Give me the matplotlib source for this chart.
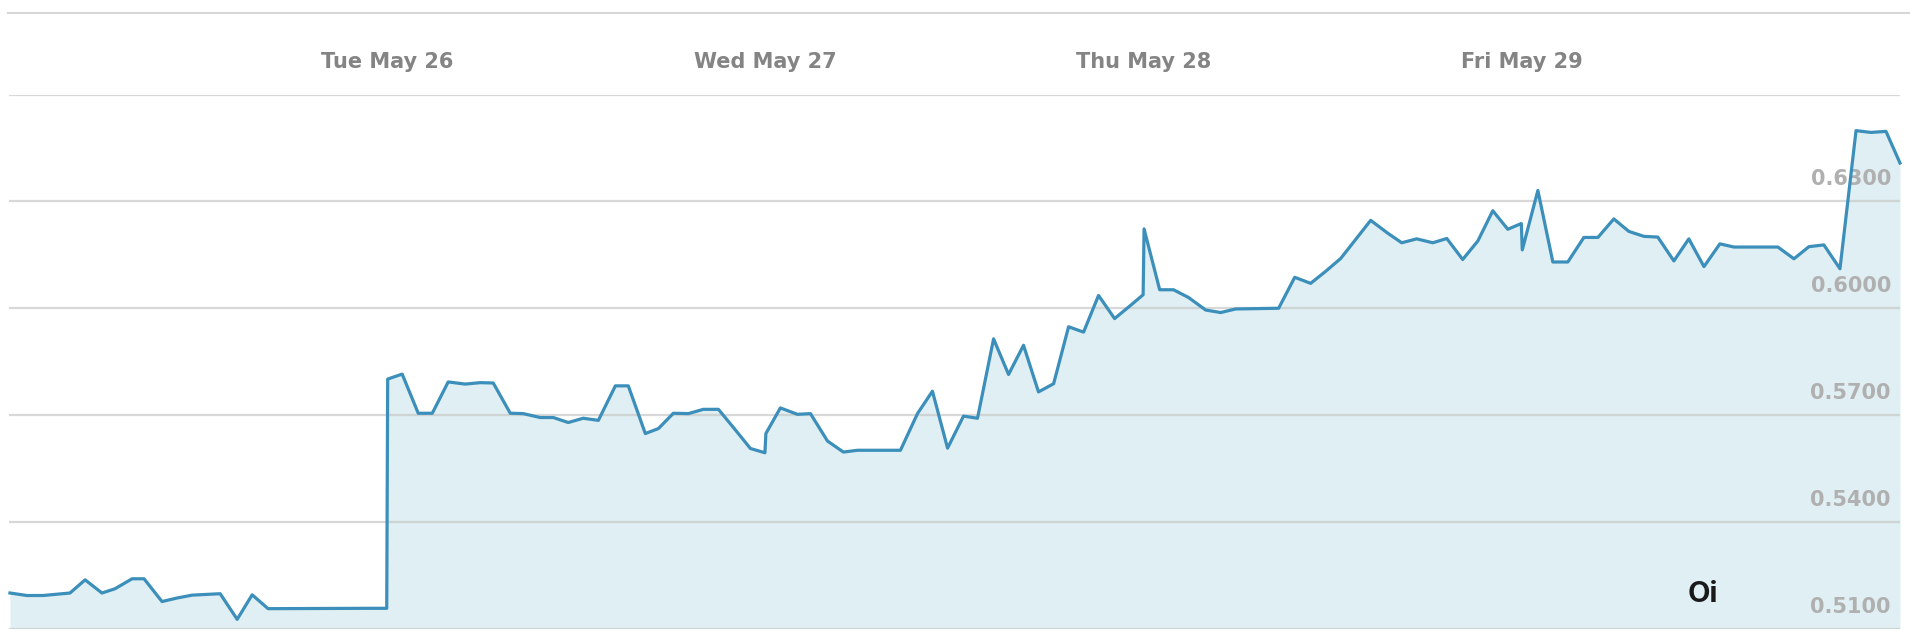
import matplotlib
matplotlib.use("Agg")
import matplotlib.pyplot as plt
import matplotlib.transforms as mtransforms
from matplotlib.lines import Line2D

# ---- data (hours since Mon May 25 00:00, price) ----
hours = [0.06, 1.14, 2.16, 3.87, 4.83, 5.90, 6.73, 7.81, 8.57, 9.71, 10.67, 11.62,
         13.40, 14.48, 15.43, 16.44, 22.73, 23.97,
         24.03, 24.95, 25.97, 26.86, 27.87, 28.95, 29.90, 30.73, 31.81, 32.63, 33.71,
         34.54, 35.49, 36.44, 37.40, 38.48, 39.30, 40.38, 41.21, 42.16, 43.11, 44.06,
         45.02, 45.97, 47.05, 47.97,
         48.03, 48.95, 50.03, 50.86, 51.94, 52.95, 53.84, 56.57, 57.65, 58.60, 59.56,
         60.57, 61.46, 62.48, 63.43, 64.38, 65.33, 66.29, 67.24, 68.19, 69.14, 70.16,
         71.17, 71.97,
         72.03, 73.02, 73.90, 74.86, 75.94, 76.89, 77.84, 80.57, 81.59, 82.60, 83.56,
         84.51, 86.41, 87.49, 88.38, 89.33, 90.35, 91.24, 92.25, 93.21, 94.16, 95.11,
         95.97,
         96.03, 97.02, 97.97, 98.92, 99.94, 100.83, 101.84, 102.79, 103.75, 104.63,
         105.65, 106.60, 107.56, 108.57, 109.46, 112.25, 113.27, 114.22, 115.17,
         116.19, 117.21, 118.16, 119.11, 120.0]
prices = [0.5200, 0.5193, 0.5193, 0.5200, 0.5237, 0.5200, 0.5212, 0.5240, 0.5240, 0.5176,
          0.5186, 0.5194, 0.5198, 0.5126, 0.5195, 0.5156, 0.5157, 0.5157,
          0.5801, 0.5815, 0.5705, 0.5705, 0.5793, 0.5787, 0.5791, 0.5790, 0.5705, 0.5704,
          0.5693, 0.5693, 0.5679, 0.5691, 0.5685, 0.5782, 0.5782, 0.5648, 0.5662, 0.5705,
          0.5704, 0.5716, 0.5716, 0.5665, 0.5606, 0.5594,
          0.5648, 0.5720, 0.5702, 0.5704, 0.5627, 0.5596, 0.5601, 0.5601, 0.5704, 0.5767,
          0.5607, 0.5697, 0.5691, 0.5914, 0.5814, 0.5896, 0.5765, 0.5788, 0.5948, 0.5933,
          0.6036, 0.5971, 0.6008, 0.6038,
          0.6223, 0.6052, 0.6052, 0.6030, 0.5995, 0.5988, 0.5998, 0.6000, 0.6087, 0.6070,
          0.6104, 0.6140, 0.6247, 0.6211, 0.6184, 0.6195, 0.6184, 0.6196, 0.6137, 0.6189,
          0.6274, 0.6222, 0.6238,
          0.6164, 0.6331, 0.6130, 0.6130, 0.6199, 0.6199, 0.6251, 0.6216, 0.6202, 0.6200,
          0.6133, 0.6195, 0.6117, 0.6181, 0.6172, 0.6172, 0.6139, 0.6173, 0.6178, 0.6111,
          0.6499, 0.6494, 0.6497, 0.6408]

day_labels = ["Tue May 26", "Wed May 27", "Thu May 28", "Fri May 29"]
day_positions = [24, 48, 72, 96]
y_ticks = [0.5100, 0.5400, 0.5700, 0.6000, 0.6300, 0.6600]
y_tick_labels = ["0.5100", "0.5400", "0.5700", "0.6000", "0.6300", ""]
watermark = "Oi"

LINE = "#3b8fba"
FILL = "#dfeff3"

W, H = 1910, 638
fig = plt.figure(figsize=(W / 100, H / 100), dpi=100)
left, right = 9 / W, 1900 / W
bottom, top = 1 - 628.6 / H, 1 - 94.7 / H
ax = fig.add_axes([left, bottom, right - left, top - bottom])
ax.set_xlim(0, 120)
ax.set_ylim(0.51, 0.66)
for s in ax.spines.values():
    s.set_visible(False)
ax.set_xticks([])
ax.set_yticks([])
ax.patch.set_alpha(0)

ax.fill_between(hours, prices, 0.51, color=FILL, lw=0, zorder=1)
for yv in y_ticks:
    ax.axhline(yv, color="#c8c8c8", lw=1.6, alpha=0.7, zorder=2)

trans_y = mtransforms.blended_transform_factory(ax.transAxes, ax.transData)
offset = mtransforms.ScaledTranslation(0, 22 / 100, fig.dpi_scale_trans)
for yv, lab in zip(y_ticks, y_tick_labels):
    if lab:
        ax.text(0.9952, yv, lab, transform=trans_y + offset, ha="right", va="center",
                fontsize=15, color="#b0b0b0", family="DejaVu Sans", fontweight="bold",
                zorder=3)

ax.plot(hours, prices, color=LINE, lw=2.3, solid_joinstyle="round", zorder=4,
        clip_on=False)

trans_x = mtransforms.blended_transform_factory(ax.transData, fig.transFigure)
for xp, lab in zip(day_positions, day_labels):
    ax.text(xp, 1 - 62 / H, lab, transform=trans_x, ha="center", va="center",
            fontsize=15, color="#848484", family="DejaVu Sans", fontweight="bold")

fig.add_artist(Line2D([8 / W, 1.0], [1 - 13 / H, 1 - 13 / H], color="#d6d6d6", lw=1.5))

fig.text(1703 / W, 1 - 594 / H, watermark, ha="center", va="center", fontsize=21,
         color="#1a1a1a", family="Inter", fontweight="bold")

fig.savefig("out.png", dpi=100)
